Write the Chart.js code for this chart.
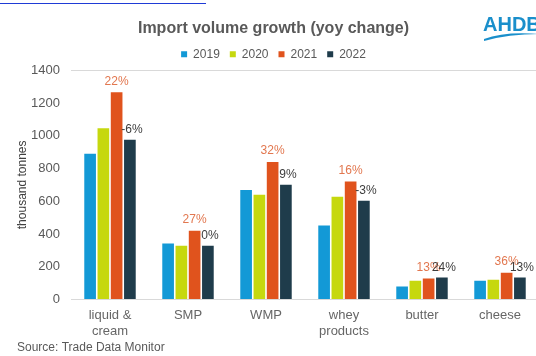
<!DOCTYPE html>
<html>
<head>
<meta charset="utf-8">
<title>Import volume growth</title>
<script src="https://cdn.jsdelivr.net/npm/chart.js"></script>
<style>
  html, body { margin: 0; padding: 0; background: #fff; overflow: hidden; }
  #wrap { width: 548px; height: 356px; }
</style>
</head>
<body>
<div id="wrap"><canvas id="importChart" width="548" height="356"></canvas></div>
<script>
// Import volumes, thousand tonnes
const categories = [['liquid &', 'cream'], 'SMP', 'WMP', ['whey', 'products'], 'butter', 'cheese'];
const years = ['2019', '2020', '2021', '2022'];
const vol2019 = [890, 342, 668, 452, 79, 114];
const vol2020 = [1045, 328, 640, 628, 114, 120];
const vol2021 = [1265, 420, 839, 721, 128, 163];
const vol2022 = [975, 328, 701, 603, 134, 134];
// yoy change labels shown above the 2021 and 2022 bars
const pct2021 = ['22%', '27%', '32%', '16%', '13%', '36%'];
const pct2022 = ['-6%', '0%', '9%', '-3%', '24%', '13%'];
const yTicks = [0, 200, 400, 600, 800, 1000, 1200, 1400];

const colors = ['#1399d6', '#c6d80e', '#e0531d', '#1f3c4b'];
const FONT = "'Liberation Sans', Arial, sans-serif";

// percentage labels over the bars
const pctLabels = {
    id: 'pctLabels',
    afterDatasetsDraw(chart) {
        const ctx = chart.ctx;
        ctx.save();
        ctx.font = '12px ' + FONT;
        ctx.textAlign = 'center';
        ctx.textBaseline = 'middle';
        const sets = [
            { idx: 2, text: pct2021, color: '#e2774f', dx: 0, dy: 11 },
            { idx: 3, text: pct2022, color: '#3d3d3d', dx: 2, dy: 10 }
        ];
        sets.forEach(s => {
            const meta = chart.getDatasetMeta(s.idx);
            meta.data.forEach((bar, i) => {
                ctx.fillStyle = s.color;
                ctx.fillText(s.text[i], bar.x + s.dx, bar.y - s.dy);
            });
        });
        ctx.restore();
    }
};

// logo, source note and the link underline at the top
const decorations = {
    id: 'decorations',
    afterDraw(chart) {
        const ctx = chart.ctx;
        ctx.save();
        // link underline
        ctx.strokeStyle = '#1f3bd6';
        ctx.lineWidth = 1;
        ctx.beginPath();
        ctx.moveTo(0, 3.5);
        ctx.lineTo(206, 3.5);
        ctx.stroke();

        // AHDB logo
        ctx.fillStyle = '#1a8fcb';
        ctx.font = 'bold 20px ' + FONT;
        ctx.textAlign = 'left';
        ctx.textBaseline = 'alphabetic';
        ctx.fillText('AHDB', 483, 31);
        ctx.beginPath();
        ctx.moveTo(484, 39);
        ctx.quadraticCurveTo(505, 31, 540, 34);
        ctx.quadraticCurveTo(508, 34, 484, 41);
        ctx.closePath();
        ctx.fill();

        // source
        ctx.fillStyle = '#595959';
        ctx.font = '12px ' + FONT;
        ctx.textBaseline = 'middle';
        ctx.fillText('Source: Trade Data Monitor', 17, 348);
        ctx.restore();
    }
};

const datasets = [vol2019, vol2020, vol2021, vol2022].map((vals, i) => ({
    label: years[i],
    data: vals,
    backgroundColor: colors[i],
    borderWidth: 0,
    categoryPercentage: 0.68,
    barPercentage: 0.88
}));

new Chart(document.getElementById('importChart'), {
    type: 'bar',
    data: { labels: categories, datasets: datasets },
    options: {
        responsive: false,
        animation: false,
        events: [],
        layout: { padding: { left: 8, right: 9, top: 0, bottom: 16 } },
        plugins: {
            title: {
                display: true,
                text: 'Import volume growth (yoy change)',
                color: '#595959',
                font: { family: FONT, size: 16, weight: 'bold' },
                padding: { top: 19, bottom: 0 }
            },
            legend: {
                display: true,
                position: 'top',
                labels: {
                    boxWidth: 6,
                    boxHeight: 6,
                    padding: 10,
                    color: '#595959',
                    font: { family: FONT, size: 12 }
                }
            },
            tooltip: { enabled: false }
        },
        scales: {
            x: {
                grid: { display: false },
                border: { display: true, color: '#d9d9d9', width: 1 },
                ticks: {
                    color: '#666666',
                    font: { family: FONT, size: 13, lineHeight: 1.25 },
                    padding: 0,
                    maxRotation: 0,
                    autoSkip: false
                }
            },
            y: {
                min: 0,
                max: 1400,
                afterBuildTicks(scale) {
                    scale.ticks = yTicks.map(v => ({ value: v }));
                },
                afterFit(scale) {
                    scale.width = 63;
                },
                grid: {
                    drawTicks: false,
                    color: ctx => (ctx.tick && ctx.tick.value === 1400 ? '#d9d9d9' : 'rgba(0,0,0,0)')
                },
                border: { display: false },
                ticks: {
                    color: '#595959',
                    font: { family: FONT, size: 13 },
                    padding: 11,
                    callback: v => String(v)
                },
                title: {
                    display: true,
                    text: 'thousand tonnes',
                    color: '#404040',
                    font: { family: FONT, size: 12 },
                    padding: { top: 7, bottom: 0 }
                }
            }
        }
    },
    plugins: [pctLabels, decorations]
});
</script>
</body>
</html>
